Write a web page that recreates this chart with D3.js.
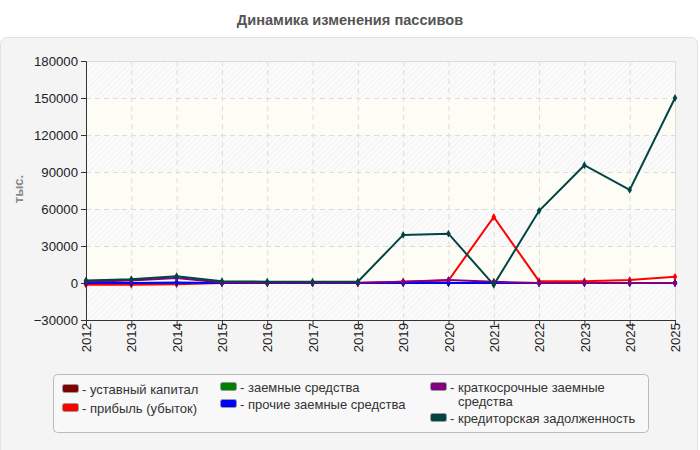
<!DOCTYPE html>
<html lang="ru">
<head>
<meta charset="UTF-8" />
<script src="https://d3js.org/d3.v7.min.js"></script>
<title>Динамика изменения пассивов</title>
<style>
  body { margin: 0; background: #fff; font-family: "Liberation Sans", Arial, sans-serif; }
</style>
</head>
<body>
<svg width="700" height="450"></svg>
<script>
  const years = ["2012","2013","2014","2015","2016","2017","2018","2019","2020","2021","2022","2023","2024","2025"];
  const ustavKapital = [10, 10, 10, 10, 10, 10, 10, 10, 10, 10, 10, 10, 10, 10];
  const pribyl = [-1500, -1500, -1000, 0, 0, 0, 0, 1000, 2000, 53500, 1500, 1500, 2500, 5000];
  const zaemnye = [0, 0, 0, 0, 0, 0, 0, 0, 0, 0, 0, 0, 0, 0];
  const prochieZaemnye = [0, 0, 500, 0, 0, 0, 0, 0, 0, 0, 0, 0, 0, 0];
  const kratkosrochnye = [1000, 2000, 4000, 500, 200, 200, 200, 1000, 2500, 1000, 0, 0, 0, 0];
  const kreditorskaya = [2000, 3000, 5500, 1500, 1000, 1000, 1000, 39000, 40000, -1500, 58500, 95500, 75500, 150000];
  const yTicks = [-30000, 0, 30000, 60000, 90000, 120000, 150000, 180000];

  const series = [
    { name: "уставный капитал", values: ustavKapital, color: "#800000" },
    { name: "прибыль (убыток)", values: pribyl, color: "#ff0000" },
    { name: "заемные средства", values: zaemnye, color: "#008000" },
    { name: "прочие заемные средства", values: prochieZaemnye, color: "#0000ff" },
    { name: "краткосрочные заемные средства", values: kratkosrochnye, color: "#800080" },
    { name: "кредиторская задолженность", values: kreditorskaya, color: "#004444" }
  ];

  const svg = d3.select("svg");
  const margin = { top: 61, left: 86, right: 25, bottom: 130 };
  const width = 700 - margin.left - margin.right;
  const height = 450 - margin.top - margin.bottom;

  // Panel background
  svg.append("rect")
    .attr("x", 0.5).attr("y", 37.5).attr("width", 697).attr("height", 420)
    .attr("rx", 6).attr("fill", "#f4f4f4").attr("stroke", "#e2e2e2");

  // Title
  svg.append("text")
    .attr("x", 350).attr("y", 25)
    .attr("text-anchor", "middle")
    .attr("font-size", 14.6).attr("font-weight", "bold").attr("fill", "#555")
    .text("Динамика изменения пассивов");

  const x = d3.scalePoint().domain(years).range([0, width]);
  const y = d3.scaleLinear().domain([-30000, 180000]).range([height, 0]);

  const defs = svg.append("defs");
  const pat = defs.append("pattern")
    .attr("id", "hatch").attr("patternUnits", "userSpaceOnUse")
    .attr("width", 4).attr("height", 4)
    .attr("patternTransform", "rotate(45)");
  pat.append("rect").attr("width", 4).attr("height", 4).attr("fill", "#fbfbfb");
  pat.append("line").attr("x1", 0).attr("y1", 0).attr("x2", 0).attr("y2", 4)
    .attr("stroke", "#eeeeee").attr("stroke-width", 1.2);

  const chart = svg.append("g").attr("transform", `translate(${margin.left},${margin.top})`);

  // Alternating bands
  for (let i = 0; i < yTicks.length - 1; i++) {
    chart.append("rect")
      .attr("x", 0).attr("width", width)
      .attr("y", y(yTicks[i + 1])).attr("height", y(yTicks[i]) - y(yTicks[i + 1]))
      .attr("fill", (yTicks.length - 2 - i) % 2 === 0 ? "url(#hatch)" : "#fdfdf6");
  }

  // Grid
  chart.append("g").selectAll("line").data(yTicks.slice(1, -1)).join("line")
    .attr("x1", 0).attr("x2", width)
    .attr("y1", d => y(d) + 0.5).attr("y2", d => y(d) + 0.5)
    .attr("stroke", "#dcdcdc").attr("stroke-dasharray", "5,4");
  chart.append("g").selectAll("line").data(years.slice(1, -1)).join("line")
    .attr("y1", 0).attr("y2", height)
    .attr("x1", d => x(d) + 0.5).attr("x2", d => x(d) + 0.5)
    .attr("stroke", "#dcdcdc").attr("stroke-dasharray", "5,4");
  chart.append("line")
    .attr("x1", width + 0.5).attr("x2", width + 0.5).attr("y1", 0).attr("y2", height)
    .attr("stroke", "#dcdcdc");
  chart.append("line")
    .attr("x1", 0).attr("x2", width).attr("y1", 0.5).attr("y2", 0.5)
    .attr("stroke", "#dcdcdc");

  // Axes
  const yAxis = chart.append("g")
    .call(d3.axisLeft(y).tickValues(yTicks).tickSize(5).tickFormat(d3.format("d")));
  const xAxis = chart.append("g")
    .attr("transform", `translate(0,${height})`)
    .call(d3.axisBottom(x).tickSize(5));
  [xAxis, yAxis].forEach(a => {
    a.select(".domain").attr("stroke", "#333");
    a.selectAll(".tick line").attr("stroke", "#333");
    a.selectAll("text").attr("font-size", 13.2).attr("fill", "#222")
      .attr("font-family", "'Liberation Sans', Arial, sans-serif");
  });
  yAxis.selectAll("text").attr("x", -8);
  xAxis.selectAll("text")
    .attr("transform", "rotate(-90)")
    .attr("text-anchor", "end")
    .attr("x", -3).attr("y", 0).attr("dy", "0.35em");

  // Y axis title
  svg.append("text")
    .attr("transform", "translate(23,189) rotate(-90)")
    .attr("text-anchor", "middle")
    .attr("font-size", 13).attr("font-weight", "bold").attr("fill", "#888")
    .text("тыс.");

  // Lines
  const line = d3.line().x((d, i) => x(years[i])).y(d => y(d));
  series.forEach(s => {
    chart.append("path")
      .datum(s.values)
      .attr("fill", "none")
      .attr("stroke", s.color)
      .attr("stroke-width", 2)
      .attr("d", line);
    chart.append("g").selectAll("path").data(s.values).join("path")
      .attr("transform", (d, i) => `translate(${x(years[i])},${y(d)})`)
      .attr("d", d3.symbol(d3.symbolDiamond, 18))
      .attr("fill", s.color);
  });

  // Legend
  const legend = svg.append("g");
  legend.append("rect")
    .attr("x", 53.5).attr("y", 374.5).attr("width", 595).attr("height", 58)
    .attr("rx", 4).attr("fill", "#f8f8f8").attr("stroke", "#bbb");

  const legendItems = [
    { s: series[0], x: 62, y: 389, lines: ["- уставный капитал"] },
    { s: series[1], x: 62, y: 408, lines: ["- прибыль (убыток)"] },
    { s: series[2], x: 220, y: 387, lines: ["- заемные средства"] },
    { s: series[3], x: 220, y: 404, lines: ["- прочие заемные средства"] },
    { s: series[4], x: 430, y: 387, lines: ["- краткосрочные заемные", "средства"] },
    { s: series[5], x: 430, y: 418, lines: ["- кредиторская задолженность"] }
  ];
  legendItems.forEach(it => {
    legend.append("rect")
      .attr("x", it.x + 0.5).attr("y", it.y - 4.5).attr("width", 16).attr("height", 8)
      .attr("rx", 2).attr("fill", it.s.color).attr("stroke", "#999");
    it.lines.forEach((t, k) => {
      legend.append("text")
        .attr("x", k === 0 ? it.x + 20 : it.x + 28)
        .attr("y", it.y + 4.5 + k * 14.5)
        .attr("font-size", 13).attr("fill", "#333")
        .text(t);
    });
  });
</script>
</body>
</html>
